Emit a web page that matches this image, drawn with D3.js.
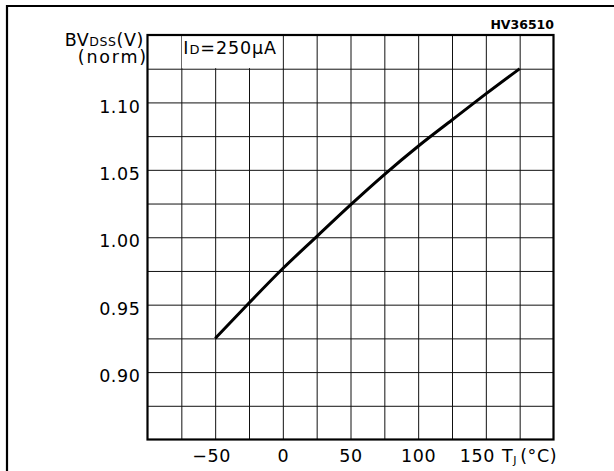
<!DOCTYPE html>
<html>
<head>
<meta charset="utf-8">
<script src="https://cdn.jsdelivr.net/npm/d3@7"></script>
<style>
  html, body { margin: 0; padding: 0; background: #fff; }
  svg { display: block; }
  text { font-family: "DejaVu Sans", sans-serif; fill: #000; }
</style>
</head>
<body>
<svg id="chart" width="614" height="471"></svg>
<script>
// Junction temperature (°C) and normalized breakdown voltage BVDSS
const tempC = [-50, -25, 0, 25, 50, 75, 100, 125, 150, 175];
const bvdssNorm = [0.925, 0.9512, 0.9768, 1.0005, 1.024, 1.0465, 1.0675, 1.087, 1.1063, 1.125];

// Axis ticks
const xLabelTicks = [-50, 0, 50, 100, 150];
const yLabelTicks = [0.90, 0.95, 1.00, 1.05, 1.10];
const xGridTicks = d3.range(-75, 200, 25);
const yGridTicks = d3.range(0.875, 1.15, 0.025);

const svg = d3.select("#chart");
const plotL = 147.5, plotR = 553.5, plotT = 35, plotB = 439.5;
const fs = 17.5, ls = 0.6;

const x = d3.scaleLinear().domain([-100, 200]).range([plotL, plotR]);
const y = d3.scaleLinear().domain([0.85, 1.15]).range([plotB, plotT]);

// Outer frame (open to the right and bottom)
svg.append("path")
  .attr("d", `M7,475 L7,6 L620,6`)
  .attr("fill", "none").attr("stroke", "#000").attr("stroke-width", 2.2);

// Grid
const grid = svg.append("g");
grid.append("g")
  .attr("transform", `translate(0,${plotB})`)
  .call(d3.axisBottom(x).tickValues(xGridTicks).tickSize(-(plotB - plotT)).tickFormat(""))
  .call(g => g.select(".domain").remove())
  .selectAll("line").attr("stroke", "#111").attr("stroke-width", 1);
grid.append("g")
  .attr("transform", `translate(${plotL},0)`)
  .call(d3.axisLeft(y).tickValues(yGridTicks).tickSize(-(plotR - plotL)).tickFormat(""))
  .call(g => g.select(".domain").remove())
  .selectAll("line").attr("stroke", "#111").attr("stroke-width", 1);

// Label box in the top row
svg.append("rect")
  .attr("x", x(-75) + 0.6).attr("y", plotT)
  .attr("width", x(0) - x(-75) - 1.2).attr("height", y(1.125) - plotT - 0.6)
  .attr("fill", "#fff");

const cond = svg.append("text")
  .attr("x", x(-75) + 2).attr("y", 54)
  .attr("font-size", fs).attr("letter-spacing", 0.9);
cond.append("tspan").text("I");
cond.append("tspan").attr("font-size", 13).text("D");
cond.append("tspan").text("=250\u03bcA");

// Plot frame
svg.append("rect")
  .attr("x", plotL).attr("y", plotT)
  .attr("width", plotR - plotL).attr("height", plotB - plotT)
  .attr("fill", "none").attr("stroke", "#000").attr("stroke-width", 2.2);

// Y tick labels
svg.append("g")
  .attr("transform", `translate(${plotL},0)`)
  .call(d3.axisLeft(y).tickValues(yLabelTicks).tickSize(0).tickPadding(7).tickFormat(d3.format(".2f")))
  .call(g => g.select(".domain").remove())
  .selectAll("text")
  .attr("font-family", "DejaVu Sans").attr("font-size", fs)
  .attr("letter-spacing", ls).attr("dy", "0.55em");

// X tick labels
svg.append("g")
  .attr("transform", `translate(0,${plotB})`)
  .call(d3.axisBottom(x).tickValues(xLabelTicks).tickSize(0).tickPadding(10).tickFormat(d3.format("d")))
  .call(g => g.select(".domain").remove())
  .selectAll("text")
  .attr("font-family", "DejaVu Sans").attr("font-size", fs)
  .attr("letter-spacing", ls).attr("dy", "0.71em")
  .attr("dx", d => d === 150 ? -9 : (d === -50 ? -4 : 0));

// Axis titles
const yt1 = svg.append("text").attr("x", 144).attr("y", 46)
  .attr("text-anchor", "end").attr("font-size", fs).attr("letter-spacing", ls);
yt1.append("tspan").text("BV");
yt1.append("tspan").attr("font-size", 12.5).text("DSS");
yt1.append("tspan").text("(V)");
svg.append("text").attr("x", 148).attr("y", 63).attr("text-anchor", "end")
  .attr("font-size", fs).attr("letter-spacing", 1.8).text("(norm)");

const xt = svg.append("text").attr("x", 502).attr("y", 462)
  .attr("font-size", fs).attr("letter-spacing", ls);
xt.append("tspan").text("T");
xt.append("tspan").attr("font-size", 11).attr("dy", 2).text("J");
xt.append("tspan").attr("dy", -2).attr("dx", 3).text("(\u00b0C)");

// Figure code
svg.append("text").attr("x", 554).attr("y", 29).attr("text-anchor", "end")
  .attr("font-size", 12.5).attr("font-weight", "bold").text("HV36510");

// Curve
const line = d3.line().x((d, i) => x(tempC[i])).y(d => y(d)).curve(d3.curveMonotoneX);
svg.append("path")
  .attr("d", line(bvdssNorm))
  .attr("fill", "none").attr("stroke", "#000").attr("stroke-width", 3);
</script>
</body>
</html>
